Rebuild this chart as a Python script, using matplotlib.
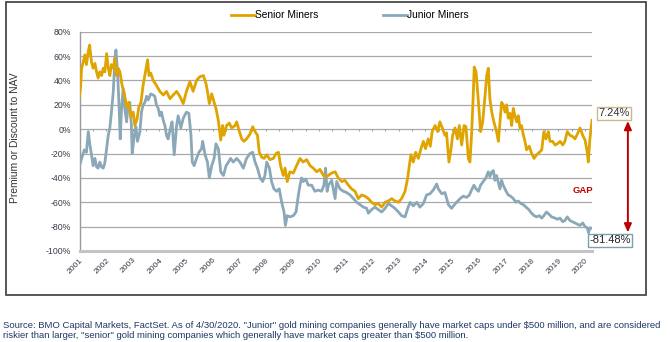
import matplotlib
matplotlib.use("Agg")
import matplotlib.pyplot as plt
from matplotlib.patches import Rectangle
from matplotlib.lines import Line2D

plt.rcParams['font.family'] = ['Liberation Sans', 'DejaVu Sans']

# Premium / discount to NAV (%), sampled in decimal years
senior_t = [2001.00, 2001.04, 2001.08, 2001.14, 2001.20, 2001.26, 2001.33, 2001.38, 2001.45, 2001.51,
            2001.58, 2001.64, 2001.70, 2001.76, 2001.83, 2001.89, 2001.95, 2002.02, 2002.08, 2002.14,
            2002.20, 2002.27, 2002.33, 2002.39, 2002.45, 2002.52, 2002.60, 2002.68, 2002.77, 2002.85,
            2002.93, 2003.02, 2003.08, 2003.16, 2003.23, 2003.31, 2003.39, 2003.48, 2003.56, 2003.61,
            2003.68, 2003.77, 2003.89, 2004.02, 2004.15, 2004.27, 2004.40, 2004.52, 2004.65, 2004.77,
            2004.90, 2005.02, 2005.15, 2005.27, 2005.40, 2005.52, 2005.66, 2005.76, 2005.81, 2005.88,
            2005.97, 2006.06, 2006.13, 2006.22, 2006.31, 2006.38, 2006.43, 2006.53, 2006.63, 2006.72,
            2006.85, 2006.91, 2007.01, 2007.10, 2007.18, 2007.28, 2007.41, 2007.51, 2007.60, 2007.69,
            2007.76, 2007.85, 2007.94, 2008.04, 2008.16, 2008.29, 2008.39, 2008.48, 2008.56, 2008.66,
            2008.73, 2008.81, 2008.91, 2009.04, 2009.16, 2009.29, 2009.41, 2009.54, 2009.67, 2009.79,
            2009.92, 2010.04, 2010.17, 2010.29, 2010.42, 2010.48, 2010.61, 2010.73, 2010.86, 2010.98,
            2011.11, 2011.23, 2011.36, 2011.48, 2011.61, 2011.73, 2011.86, 2011.98, 2012.11, 2012.23,
            2012.36, 2012.49, 2012.61, 2012.74, 2012.86, 2012.99, 2013.11, 2013.24, 2013.34, 2013.40,
            2013.46, 2013.55, 2013.64, 2013.74, 2013.84, 2013.93, 2014.01, 2014.11, 2014.19, 2014.26,
            2014.37, 2014.47, 2014.55, 2014.64, 2014.74, 2014.80, 2014.89, 2014.97, 2015.03, 2015.12,
            2015.21, 2015.28, 2015.37, 2015.46, 2015.53, 2015.62, 2015.68, 2015.74, 2015.81, 2015.84,
            2015.91, 2016.00, 2016.08, 2016.16, 2016.25, 2016.31, 2016.37, 2016.43, 2016.50, 2016.58,
            2016.68, 2016.75, 2016.81, 2016.87, 2016.93, 2017.00, 2017.06, 2017.12, 2017.19, 2017.25,
            2017.31, 2017.37, 2017.44, 2017.50, 2017.56, 2017.62, 2017.69, 2017.75, 2017.81, 2017.91,
            2018.00, 2018.09, 2018.19, 2018.29, 2018.38, 2018.46, 2018.54, 2018.63, 2018.69, 2018.79,
            2018.88, 2018.97, 2019.07, 2019.17, 2019.25, 2019.34, 2019.44, 2019.54, 2019.63, 2019.72,
            2019.82, 2019.92, 2020.01, 2020.09, 2020.13, 2020.19, 2020.27]
senior_v = [27, 35, 50, 55, 61, 53, 64, 69, 55, 50,
            54, 47, 42, 47, 44, 50, 47, 62, 50, 44,
            53, 50, 58, 44, 50, 47, 36, 30, 18, 22,
            10, 14, 3, 8, 18, 22, 36, 47, 57, 44,
            46, 40, 36, 31, 28, 31, 25, 28, 31, 27,
            21, 31, 39, 31, 40, 43, 44, 37, 31, 21,
            29, 22, 17, 7, -9, 3, -5, 3, 5, 1,
            3, 6, -2, -8, -10, -8, -4, 2, -2, -5,
            -19, -23, -24, -21, -25, -24, -20, -19, -30, -38,
            -32, -43, -35, -36, -30, -24, -27, -25, -30, -32,
            -35, -33, -38, -39, -37, -36, -35, -40, -43, -42,
            -46, -49, -51, -57, -54, -55, -57, -60, -62, -61,
            -64, -60, -59, -57, -59, -60, -57, -51, -40, -30,
            -21, -27, -19, -24, -16, -10, -16, -8, -14, -2,
            3, -2, 6, 1, -5, -3, -27, -16, -5, 1,
            -8, 3, -13, 3, 2, -24, -27, -5, 31, 51,
            47, 22, -2, 6, 28, 44, 50, 25, 14, 6,
            -2, -10, 6, 22, 20, 14, 20, 9, 13, 3,
            17, 11, 6, 11, 1, 3, -5, -10, -17, -14,
            -20, -24, -21, -19, -17, -2, -8, -2, -10, -10,
            -13, -12, -10, -13, -10, -2, -5, -6, -8, -4,
            1, -5, -9, -19, -27, -8, 7.24]

junior_t = [2001.00, 2001.08, 2001.18, 2001.26, 2001.33, 2001.39, 2001.45, 2001.51, 2001.58, 2001.64,
            2001.70, 2001.76, 2001.83, 2001.89, 2001.95, 2002.02, 2002.08, 2002.14, 2002.20, 2002.27,
            2002.33, 2002.37, 2002.43, 2002.49, 2002.53, 2002.58, 2002.64, 2002.70, 2002.77, 2002.83,
            2002.89, 2002.95, 2002.98, 2003.06, 2003.12, 2003.18, 2003.27, 2003.33, 2003.39, 2003.46,
            2003.52, 2003.58, 2003.68, 2003.77, 2003.83, 2003.89, 2003.96, 2004.02, 2004.08, 2004.15,
            2004.21, 2004.27, 2004.33, 2004.40, 2004.48, 2004.56, 2004.65, 2004.71, 2004.81, 2004.90,
            2005.02, 2005.11, 2005.19, 2005.24, 2005.31, 2005.40, 2005.49, 2005.59, 2005.63, 2005.72,
            2005.81, 2005.88, 2005.97, 2006.06, 2006.13, 2006.22, 2006.31, 2006.41, 2006.51, 2006.60,
            2006.68, 2006.78, 2006.91, 2007.03, 2007.16, 2007.28, 2007.41, 2007.51, 2007.60, 2007.69,
            2007.79, 2007.89, 2007.97, 2008.04, 2008.14, 2008.22, 2008.31, 2008.41, 2008.51, 2008.60,
            2008.69, 2008.74, 2008.81, 2008.91, 2009.04, 2009.14, 2009.23, 2009.29, 2009.35, 2009.41,
            2009.51, 2009.60, 2009.73, 2009.85, 2009.98, 2010.10, 2010.19, 2010.25, 2010.31, 2010.36,
            2010.48, 2010.61, 2010.67, 2010.79, 2010.92, 2011.04, 2011.17, 2011.30, 2011.42, 2011.55,
            2011.67, 2011.80, 2011.86, 2011.98, 2012.11, 2012.23, 2012.36, 2012.49, 2012.61, 2012.74,
            2012.86, 2012.99, 2013.11, 2013.24, 2013.34, 2013.43, 2013.55, 2013.68, 2013.80, 2013.93,
            2014.05, 2014.18, 2014.30, 2014.43, 2014.49, 2014.62, 2014.74, 2014.87, 2014.99, 2015.06,
            2015.18, 2015.31, 2015.43, 2015.56, 2015.66, 2015.74, 2015.83, 2015.91, 2016.00, 2016.08,
            2016.18, 2016.28, 2016.37, 2016.43, 2016.50, 2016.56, 2016.62, 2016.68, 2016.75, 2016.81,
            2016.87, 2016.93, 2017.04, 2017.12, 2017.21, 2017.31, 2017.41, 2017.50, 2017.59, 2017.69,
            2017.79, 2017.89, 2018.00, 2018.09, 2018.19, 2018.29, 2018.38, 2018.46, 2018.56, 2018.66,
            2018.75, 2018.88, 2018.97, 2019.07, 2019.17, 2019.25, 2019.34, 2019.44, 2019.54, 2019.63,
            2019.72, 2019.82, 2019.92, 2020.01, 2020.09, 2020.14, 2020.19, 2020.27]
junior_v = [-30, -24, -17, -19, -2, -13, -21, -30, -24, -31,
            -32, -27, -31, -32, -28, -16, -5, 1, 14, 31,
            58, 65, 47, 17, -8, 17, 33, 17, 6, 20,
            22, 3, -20, -5, 2, -10, -2, 14, 20, 22,
            27, 24, 29, 28, 27, 20, 17, 11, 14, 7,
            3, -5, -8, -1, 6, -21, 3, 11, 1, 9,
            14, 13, -5, -27, -30, -24, -19, -16, -10, -21,
            -27, -40, -30, -24, -12, -16, -35, -38, -30, -27,
            -24, -27, -24, -27, -32, -24, -20, -19, -27, -32,
            -40, -43, -38, -27, -32, -43, -49, -51, -49, -60,
            -68, -79, -71, -72, -71, -68, -54, -46, -40, -43,
            -41, -46, -46, -51, -50, -51, -46, -32, -51, -46,
            -42, -57, -43, -49, -51, -52, -54, -57, -60, -62,
            -64, -65, -69, -66, -64, -66, -68, -65, -61, -63,
            -65, -68, -71, -72, -65, -60, -63, -60, -64, -61,
            -54, -53, -50, -45, -49, -53, -52, -62, -65, -63,
            -60, -57, -55, -56, -54, -50, -46, -49, -51, -46,
            -43, -40, -35, -39, -35, -34, -42, -38, -44, -49,
            -42, -46, -51, -54, -55, -57, -60, -59, -61, -62,
            -64, -66, -69, -71, -72, -71, -73, -71, -68, -70,
            -72, -73, -74, -73, -76, -75, -72, -75, -76, -77,
            -78, -79, -77, -80, -81, -85, -81, -81.48]

years = list(range(2001, 2021))
year_labels = [str(y) for y in years]
y_ticks = list(range(-100, 81, 20))
y_labels = [f"{v}%" for v in y_ticks]

senior_last = senior_v[-1]
junior_last = junior_v[-1]

GOLD = '#DFA400'
STEEL = '#8AA8B8'
RED = '#C00000'
TXT = '#3A3A4A'

fig = plt.figure(figsize=(6.7, 3.42), dpi=100)
fig.patch.set_facecolor('white')
ax = fig.add_axes([0.1187, 0.2661, 0.7649, 0.6412])

ax.plot(senior_t, senior_v, color=GOLD, lw=2.0, solid_joinstyle='round', zorder=4)
ax.plot(junior_t, junior_v, color=STEEL, lw=2.0, solid_joinstyle='round', zorder=3)

ax.set_xlim(2001.0, 2020.27)
ax.set_ylim(-100, 80)
ax.set_yticks(y_ticks)
ax.set_yticklabels(y_labels, fontsize=6.3, color=TXT)
ax.set_xticks(years)
ax.set_xticklabels(year_labels, fontsize=6.1, color=TXT, rotation=45,
                   ha='right', rotation_mode='anchor')
ax.tick_params(axis='x', length=0, pad=4)
ax.tick_params(axis='y', length=0, pad=6)

for v in y_ticks[1:]:
    ax.axhline(v, color='#A8A8A8', lw=0.9, zorder=1)

# half-year tick marks sitting on the zero line
half_years = [2001 + 0.5 * i for i in range(39)]
ax.vlines(half_years, -1.8, 0, color='#8C8C8C', lw=0.6, zorder=2)

for s in ['top', 'right']:
    ax.spines[s].set_visible(False)
ax.spines['left'].set_color('#9A9A9A')
ax.spines['left'].set_linewidth(1.0)
ax.spines['bottom'].set_color('#C4C4C4')
ax.spines['bottom'].set_linewidth(2.2)

fig.text(0.022, 0.596, 'Premium or Discount to NAV', rotation=90,
         ha='center', va='center', fontsize=7.4, color='#333333')

handles = [Line2D([], [], color=GOLD, lw=2.0), Line2D([], [], color=STEEL, lw=2.0)]
fig.legend(handles, ['Senior Miners', 'Junior Miners'], loc='center',
           bbox_to_anchor=(0.522, 0.955), ncol=2, frameon=False, fontsize=7.4,
           handlelength=2.3, handletextpad=0.0, columnspacing=6.3)

# end-value labels
ax.annotate(f"{senior_last:.2f}%", xy=(2020.27, senior_last), xytext=(22, 7),
            textcoords='offset pixels', ha='center', va='center', fontsize=8,
            color='#333333', annotation_clip=False, zorder=6,
            bbox=dict(boxstyle='square,pad=0.15', fc='white', ec='#C9B98C', lw=1.0))
ax.annotate(f"{junior_last:.2f}%", xy=(2020.27, junior_last), xytext=(18, -12),
            textcoords='offset pixels', ha='center', va='center', fontsize=8,
            color='#222222', annotation_clip=False, zorder=6,
            bbox=dict(boxstyle='square,pad=0.15', fc='white', ec='#7E9FB0', lw=1.0))

# gap arrow between the two end values
trans = ax.get_yaxis_transform()
ax.annotate('', xy=(1.070, junior_last - 3.3), xytext=(1.070, senior_last - 0.5),
            xycoords=trans, textcoords=trans, annotation_clip=False,
            arrowprops=dict(arrowstyle='<|-|>,head_length=0.5,head_width=0.22',
                            color=RED, lw=1.4, shrinkA=0, shrinkB=0))
ax.text(0.982, -50, 'GAP', transform=trans, ha='center', va='center',
        fontsize=6.8, fontweight='bold', color=RED)

# outer frame
fig.patches.append(Rectangle((6 / 670, 1 - 295 / 342), 640 / 670, 293 / 342,
                             transform=fig.transFigure, fill=False,
                             ec='#4A4A4A', lw=1.3))

fig.text(0.004, 1 - 325 / 342,
         'Source: BMO Capital Markets, FactSet. As of 4/30/2020. "Junior" gold mining companies generally have market caps under $500 million, and are considered',
         ha='left', va='center', fontsize=6.8, color='#1F3864')
fig.text(0.004, 1 - 336 / 342,
         'riskier than larger, "senior" gold mining companies which generally have market caps greater than $500 million.',
         ha='left', va='center', fontsize=6.8, color='#1F3864')

fig.savefig('out.png', dpi=100, facecolor='white')
